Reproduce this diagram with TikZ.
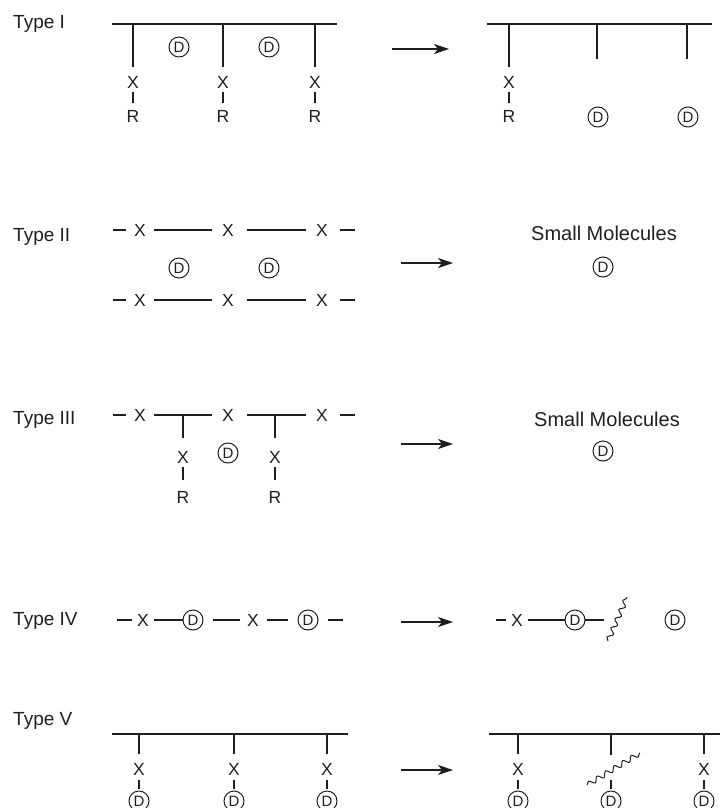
\documentclass[tikz,border=0pt]{standalone}
\usepackage{fontspec}
\setmainfont{Liberation Sans}
\usetikzlibrary{arrows.meta,decorations.pathmorphing}
\begin{document}
\begin{tikzpicture}[x=1pt,y=-1pt,
  every node/.style={text=black!88},
  ln/.style={line width=1.1pt, draw=black!88},
  lbl/.style={font=\fontsize{19}{22}\selectfont, anchor=west, inner sep=0, text height=13.6pt, text depth=0pt},
  atom/.style={font=\fontsize{17.5}{20}\selectfont, inner sep=0, outer sep=0, text height=12.5pt, text depth=0pt},
  sm/.style={font=\fontsize{20}{24}\selectfont, inner sep=0, text height=14.3pt, text depth=0pt},
  dd/.style={circle, draw=black!88, line width=1pt, minimum size=20pt, inner sep=0, outer sep=0, font=\fontsize{15}{17}\selectfont},
  arr/.style={ln, -{Stealth[length=15pt,width=10pt,inset=4pt]}},
  wavy/.style={ln, line width=1pt, decorate, decoration={snake, segment length=10pt, amplitude=2.5pt}},
]
\useasboundingbox (0,0) rectangle (720,808);

% ---------------- Type I ----------------
\node[lbl] (t1) at (13,21.5) {Type I};
\coordinate (p1L) at (112,24); \coordinate (p1R) at (337,24);
\draw[ln] (p1L) -- (p1R);
\foreach \i/\x in {1/133,2/223,3/315}{
  \coordinate (p1b\i) at (\x,24);
  \node[atom] (p1x\i) at (\x,82) {X};
  \node[atom] (p1r\i) at (\x,116.5) {R};
  \draw[ln] (p1b\i) -- ([yshift=9pt]p1x\i.north);
  \draw[ln] ([yshift=-4pt]p1x\i.south) -- ([yshift=7pt]p1r\i.north);
}
\node[dd] (p1d1) at (179,47) {D};
\node[dd] (p1d2) at (269,47) {D};
\coordinate (a1s) at (392,49); \coordinate (a1e) at (449,49);
\draw[arr] (a1s) -- (a1e);
\coordinate (q1L) at (487,24); \coordinate (q1R) at (712,24);
\draw[ln] (q1L) -- (q1R);
\coordinate (q1b1) at (509,24);
\node[atom] (q1x1) at (509,82) {X};
\node[atom] (q1r1) at (509,116.5) {R};
\draw[ln] (q1b1) -- ([yshift=9pt]q1x1.north);
\draw[ln] ([yshift=-4pt]q1x1.south) -- ([yshift=7pt]q1r1.north);
\coordinate (q1b2) at (597,24); \coordinate (q1e2) at (597,59);
\coordinate (q1b3) at (687,24); \coordinate (q1e3) at (687,59);
\draw[ln] (q1b2) -- (q1e2);
\draw[ln] (q1b3) -- (q1e3);
\node[dd] (q1d1) at (598,117) {D};
\node[dd] (q1d2) at (688,117) {D};

% ---------------- Type II ----------------
\node[lbl] (t2) at (13,235) {Type II};
\foreach \rw/\y in {a/230,b/300}{
  \coordinate (p2\rw L) at (113,\y);
  \coordinate (p2\rw R) at (355,\y);
  \node[atom] (p2\rw 1) at (140,\y) {X};
  \node[atom] (p2\rw 2) at (228,\y) {X};
  \node[atom] (p2\rw 3) at (322,\y) {X};
  \draw[ln] (p2\rw L) -- ([xshift=-8pt]p2\rw 1.west);
  \draw[ln] ([xshift=8pt]p2\rw 1.east) -- ([xshift=-10pt]p2\rw 2.west);
  \draw[ln] ([xshift=13pt]p2\rw 2.east) -- ([xshift=-10pt]p2\rw 3.west);
  \draw[ln] ([xshift=12pt]p2\rw 3.east) -- (p2\rw R);
}
\node[dd] (p2d1) at (179,268) {D};
\node[dd] (p2d2) at (269,268) {D};
\coordinate (a2s) at (401,263); \coordinate (a2e) at (453,263);
\draw[arr] (a2s) -- (a2e);
\node[sm] (s2) at (604,233) {Small Molecules};
\node[dd] (s2d) at (603,267) {D};

% ---------------- Type III ----------------
\node[lbl] (t3) at (13,417.5) {Type III};
\coordinate (p3L) at (113,415);
\coordinate (p3R) at (355,415);
\node[atom] (p3x1) at (140,415) {X};
\node[atom] (p3x2) at (228,415) {X};
\node[atom] (p3x3) at (322,415) {X};
\draw[ln] (p3L) -- ([xshift=-8pt]p3x1.west);
\draw[ln] ([xshift=8pt]p3x1.east) -- ([xshift=-10pt]p3x2.west);
\draw[ln] ([xshift=13pt]p3x2.east) -- ([xshift=-10pt]p3x3.west);
\draw[ln] ([xshift=12pt]p3x3.east) -- (p3R);
\foreach \i/\x in {1/183,2/275}{
  \coordinate (p3b\i) at (\x,415);
  \node[atom] (p3y\i) at (\x,457) {X};
  \node[atom] (p3s\i) at (\x,497) {R};
  \draw[ln] (p3b\i) -- ([yshift=13pt]p3y\i.north);
  \draw[ln] ([yshift=-4pt]p3y\i.south) -- ([yshift=11pt]p3s\i.north);
}
\node[dd] (p3d) at (228,453) {D};
\coordinate (a3s) at (401,444); \coordinate (a3e) at (453,444);
\draw[arr] (a3s) -- (a3e);
\node[sm] (s3) at (607,419) {Small Molecules};
\node[dd] (s3d) at (603,451) {D};

% ---------------- Type IV ----------------
\node[lbl] (t4) at (13,619) {Type IV};
\coordinate (p4L) at (117,620);
\node[atom] (p4x1) at (143,620) {X};
\node[dd] (p4d1) at (193,620) {D};
\node[atom] (p4x2) at (253,620) {X};
\node[dd] (p4d2) at (308,620) {D};
\coordinate (p4R) at (343,620);
\draw[ln] (p4L) -- ([xshift=-5pt]p4x1.west);
\draw[ln] ([xshift=5pt]p4x1.east) -- (p4d1.west);
\draw[ln] ([xshift=10pt]p4d1.east) -- ([xshift=-7pt]p4x2.west);
\draw[ln] ([xshift=8pt]p4x2.east) -- ([xshift=-10pt]p4d2.west);
\draw[ln] ([xshift=10pt]p4d2.east) -- (p4R);
\coordinate (a4s) at (401,622); \coordinate (a4e) at (453,622);
\draw[arr] (a4s) -- (a4e);
\coordinate (q4L) at (496,620);
\node[atom] (q4x1) at (517,620) {X};
\node[dd] (q4d1) at (575,620) {D};
\coordinate (q4e) at (604,620);
\draw[ln] (q4L) -- ([xshift=-5pt]q4x1.west);
\draw[ln] ([xshift=5pt]q4x1.east) -- (q4d1.west);
\draw[ln] (q4d1.east) -- (q4e);
\coordinate (q4w1) at (608,641); \coordinate (q4w2) at (627,597);
\draw[wavy] (q4w1) -- (q4w2);
\node[dd] (q4d2) at (675,620) {D};

% ---------------- Type V ----------------
\node[lbl] (t5) at (13,719) {Type V};
\coordinate (p5L) at (112,734); \coordinate (p5R) at (348,734);
\draw[ln] (p5L) -- (p5R);
\foreach \i/\x in {1/139,2/234,3/327}{
  \coordinate (p5b\i) at (\x,734);
  \node[atom] (p5x\i) at (\x,769.5) {X};
  \node[dd] (p5d\i) at (\x,801) {D};
  \draw[ln] (p5b\i) -- ([yshift=9.6pt]p5x\i.north);
  \draw[ln] ([yshift=-4pt]p5x\i.south) -- ([yshift=2pt]p5d\i.north);
}
\coordinate (a5s) at (401,770); \coordinate (a5e) at (453,770);
\draw[arr] (a5s) -- (a5e);
\coordinate (q5L) at (489,734); \coordinate (q5R) at (720,734);
\draw[ln] (q5L) -- (q5R);
\foreach \i/\x in {1/518,3/704}{
  \coordinate (q5b\i) at (\x,734);
  \node[atom] (q5x\i) at (\x,769.5) {X};
  \node[dd] (q5d\i) at (\x,801) {D};
  \draw[ln] (q5b\i) -- ([yshift=9.6pt]q5x\i.north);
  \draw[ln] ([yshift=-4pt]q5x\i.south) -- ([yshift=2pt]q5d\i.north);
}
\coordinate (q5b2) at (611,734); \coordinate (q5e2) at (611,755);
\draw[ln] (q5b2) -- (q5e2);
\coordinate (q5w1) at (587,785); \coordinate (q5w2) at (640,753);
\draw[wavy] (q5w1) -- (q5w2);
\coordinate (q5t2) at (611,780);
\node[dd] (q5d2) at (611,801) {D};
\draw[ln] (q5t2) -- ([yshift=2pt]q5d2.north);
\end{tikzpicture}
\end{document}
